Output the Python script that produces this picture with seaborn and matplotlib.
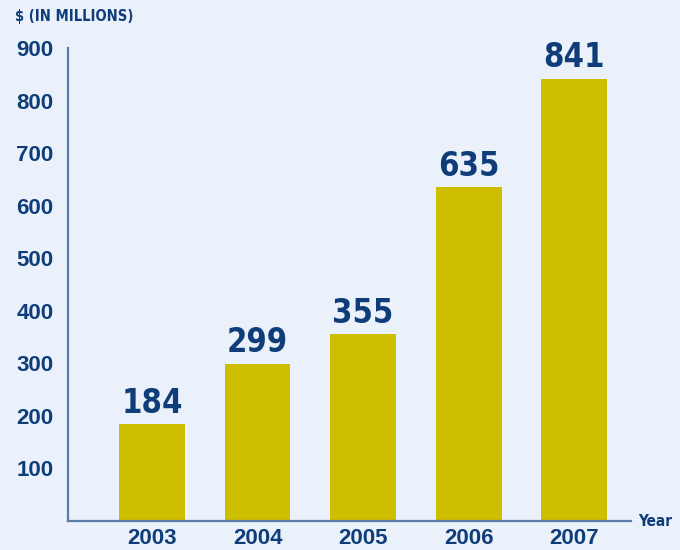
import matplotlib
matplotlib.use("Agg")
import matplotlib.pyplot as plt
import seaborn as sns
import pandas as pd

years = ["2003", "2004", "2005", "2006", "2007"]
values = [184, 299, 355, 635, 841]
y_ticks = [100, 200, 300, 400, 500, 600, 700, 800, 900]

BG = "#EAF1FA"
BAR = "#CDBF00"
TXT = "#0E3D7A"
AX = "#5B7CA8"

sns.set_theme(style="white")
plt.rcParams["font.family"] = ["Liberation Sans", "DejaVu Sans"]

df = pd.DataFrame({"year": years, "value": values})

fig = plt.figure(figsize=(6.8, 5.5), dpi=100, facecolor=BG)
ax = fig.add_axes([0.1, 0.0527, 0.828, 0.86])
ax.set_facecolor(BG)

sns.barplot(data=df, x="year", y="value", color=BAR, width=0.625, saturation=1,
            linewidth=0, ax=ax)

ax.set_ylim(0, 900)
ax.set_xlim(-0.796, 4.54)
ax.set_yticks(y_ticks)
ax.set_yticklabels([str(t) for t in y_ticks])

for s in ["top", "right"]:
    ax.spines[s].set_visible(False)
for s in ["left", "bottom"]:
    ax.spines[s].set_color(AX)
    ax.spines[s].set_linewidth(1.6)

ax.tick_params(axis="y", direction="inout", length=13, width=1.3, color=AX,
               labelsize=16, labelcolor=TXT, pad=4)
ax.tick_params(axis="x", length=0, labelsize=16, labelcolor=TXT, pad=5)
for lab in ax.get_yticklabels() + ax.get_xticklabels():
    lab.set_fontweight("bold")

ax.set_xlabel("")
ax.set_ylabel("")

for i, v in enumerate(values):
    ax.text(i, v + 9, str(v), ha="center", va="bottom", color=TXT,
            fontsize=23.5, fontweight="bold", fontstretch="condensed",
            family=["DejaVu Sans"])

fig.text(15 / 680, 1 - 17 / 550, "$ (IN MILLIONS)", ha="left", va="center",
         color=TXT, fontsize=10.5, fontweight="bold", fontstretch="condensed",
         family=["DejaVu Sans"])
fig.text(638 / 680, 1 - 521 / 550, "Year", ha="left", va="center",
         color=TXT, fontsize=11, fontweight="bold", fontstretch="condensed",
         family=["DejaVu Sans"])

fig.savefig("out.png", dpi=100, facecolor=BG)
